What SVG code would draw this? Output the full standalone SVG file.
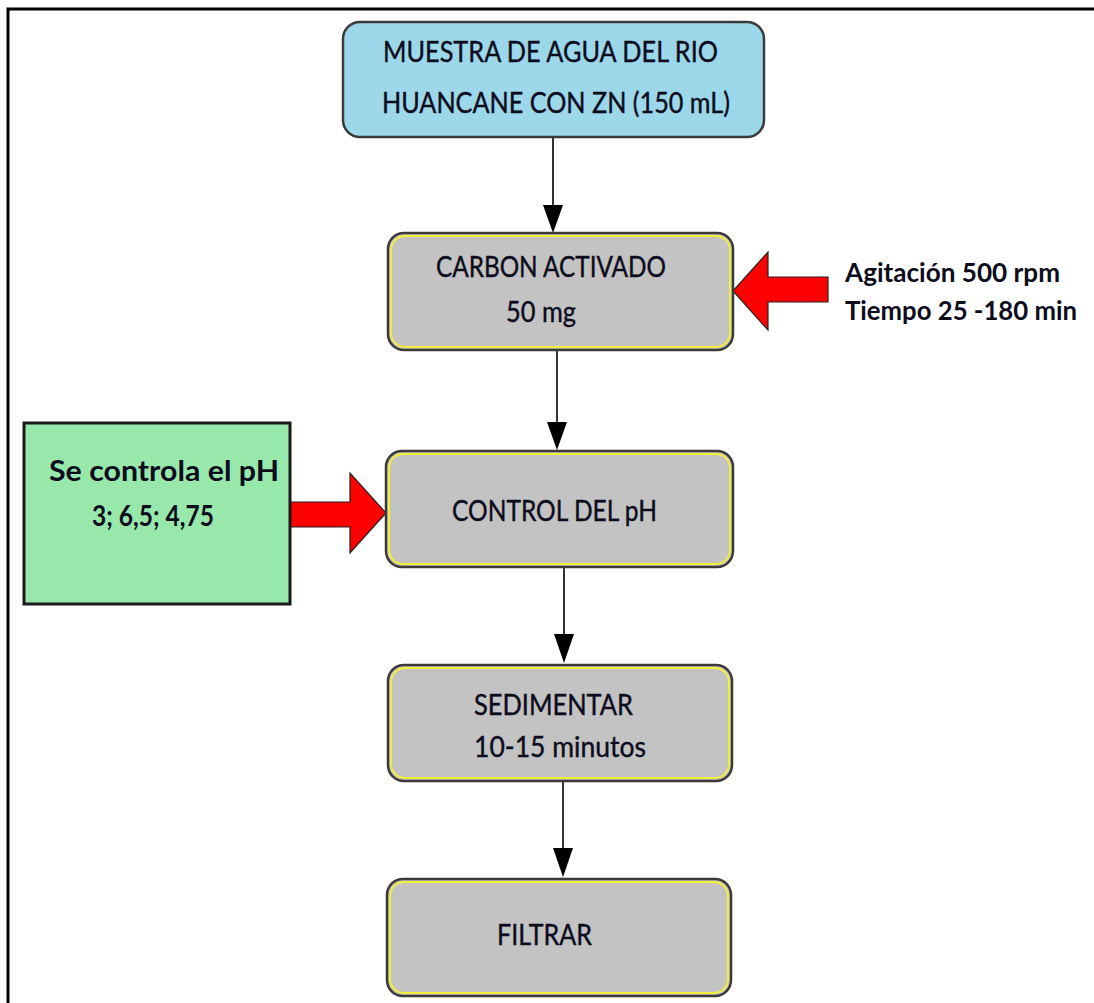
<svg xmlns="http://www.w3.org/2000/svg" width="1094" height="1003" viewBox="0 0 1094 1003">
<defs>
<style>
.t{font-family:Lato,"Open Sans","Liberation Sans",sans-serif;font-size:28px;fill:#0c0c1c;stroke:#0c0c1c;stroke-width:0.4}
.b{font-weight:bold;stroke-width:0}
.s{font-size:26.5px}
.box{fill:#c3c3c3;stroke:#3a3a3a;stroke-width:2.5}
.inner{fill:none;stroke:#f2ee3a;stroke-width:2}
.con{stroke:#333;stroke-width:2;fill:none}
.head{fill:#000}
.red{fill:#ff0000;stroke:#222;stroke-width:1.2}
</style>
</defs>
<rect width="1094" height="1003" fill="#fff"/>
<g id="frame"><path d="M8,1003 V9 H1094" fill="none" stroke="#000" stroke-width="3"/></g>

<g id="connectors">
<line class="con" x1="553" y1="137" x2="553" y2="208"/>
<polygon class="head" points="543,205 563,205 553,233"/>
<line class="con" x1="557" y1="350" x2="557" y2="425"/>
<polygon class="head" points="547,422 567,422 557,450"/>
<line class="con" x1="564" y1="567" x2="564" y2="637"/>
<polygon class="head" points="554,634 574,634 564,663"/>
<line class="con" x1="563" y1="780" x2="563" y2="851"/>
<polygon class="head" points="553,848 573,848 563,877"/>
<polygon class="red" points="733,291 768,252 768,277 828,277 828,302 768,302 768,330"/>
<polygon class="red" points="290,502 350,502 350,473 386,513 350,553 350,527 290,527"/>
</g>

<g id="muestra">
<rect x="343" y="22" width="421" height="115" rx="17" fill="#9cd8ea" stroke="#3a3a3a" stroke-width="2.5"/>
<text class="t" x="383" y="62" textLength="335" lengthAdjust="spacingAndGlyphs">MUESTRA DE AGUA DEL RIO</text>
<text class="t" x="382" y="113" textLength="348" lengthAdjust="spacingAndGlyphs">HUANCANE CON ZN (150 mL)</text>
</g>

<g id="carbon">
<rect class="box" x="388" y="233" width="345" height="117" rx="16"/>
<rect class="inner" x="391" y="236" width="339" height="111" rx="14"/>
<text class="t" x="436" y="277" textLength="230" lengthAdjust="spacingAndGlyphs">CARBON ACTIVADO</text>
<text class="t" x="506" y="322" textLength="70" lengthAdjust="spacingAndGlyphs">50 mg</text>
</g>

<g id="agitacion">
<text class="t b s" x="845" y="282" textLength="215" lengthAdjust="spacingAndGlyphs">Agitación 500 rpm</text>
<text class="t b s" x="845" y="320" textLength="232" lengthAdjust="spacingAndGlyphs">Tiempo 25 -180 min</text>
</g>

<g id="control">
<rect class="box" x="386" y="451" width="347" height="116" rx="16"/>
<rect class="inner" x="389" y="454" width="341" height="110" rx="14"/>
<text class="t" x="452" y="521" textLength="205" lengthAdjust="spacingAndGlyphs">CONTROL DEL pH</text>
</g>

<g id="se-controla">
<rect x="24" y="423" width="266" height="181" fill="#98e8ac" stroke="#1a1a1a" stroke-width="3"/>
<text class="t b" x="49" y="481" textLength="230" lengthAdjust="spacingAndGlyphs">Se controla el pH</text>
<text class="t b" x="92" y="526" textLength="122" lengthAdjust="spacingAndGlyphs">3; 6,5; 4,75</text>
</g>

<g id="sedimentar">
<rect class="box" x="388" y="665" width="344" height="116" rx="16"/>
<rect class="inner" x="391" y="668" width="338" height="110" rx="14"/>
<text class="t" x="474" y="715" textLength="159" lengthAdjust="spacingAndGlyphs">SEDIMENTAR</text>
<text class="t" x="474" y="757" textLength="172" lengthAdjust="spacingAndGlyphs">10-15 minutos</text>
</g>

<g id="filtrar">
<rect class="box" x="387" y="879" width="344" height="117" rx="16"/>
<rect class="inner" x="390" y="882" width="338" height="111" rx="14"/>
<text class="t" x="497" y="945" textLength="95" lengthAdjust="spacingAndGlyphs">FILTRAR</text>
</g>
</svg>
